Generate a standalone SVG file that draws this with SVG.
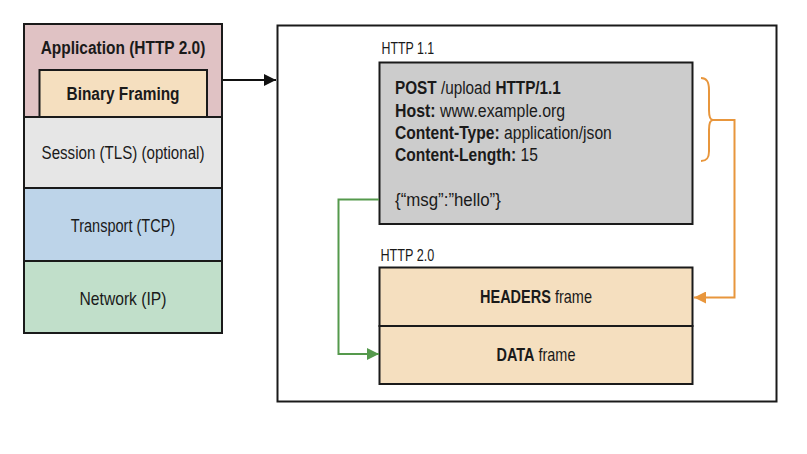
<svg xmlns="http://www.w3.org/2000/svg" width="807" height="454" viewBox="0 0 807 454">
<style>
.box{stroke:#1a1a1a;stroke-width:2}
.t{font-family:"Liberation Sans",Arial,sans-serif;font-size:18.5px;fill:#1a1a1a}
.b{font-weight:bold}
.m{text-anchor:middle}
</style>
<defs>
<marker id="ab" viewBox="0 0 12 12" refX="12" refY="6" markerWidth="12" markerHeight="12" markerUnits="userSpaceOnUse" orient="auto"><path d="M0,0 L12,6 L0,12 Z" fill="#111"/></marker>
<marker id="ag" viewBox="0 0 12 12" refX="12" refY="6" markerWidth="12" markerHeight="12" markerUnits="userSpaceOnUse" orient="auto"><path d="M0,0 L12,6 L0,12 Z" fill="#55994c"/></marker>
<marker id="ao" viewBox="0 0 12 12" refX="12" refY="6" markerWidth="12" markerHeight="12" markerUnits="userSpaceOnUse" orient="auto"><path d="M0,0 L12,6 L0,12 Z" fill="#e8963c"/></marker>
</defs>
<rect width="807" height="454" fill="#ffffff"/>

<g id="stack">
<g id="application">
<rect class="box" x="24" y="24" width="198" height="93" fill="#e0c2c4"/>
<text class="t b m" transform="translate(123,54) scale(0.836,1)">Application (HTTP 2.0)</text>
</g>
<g id="binary-framing">
<rect class="box" x="39.5" y="70" width="167.5" height="47" fill="#f5dfbf"/>
<text class="t b m" transform="translate(123,100) scale(0.833,1)">Binary Framing</text>
</g>
<g id="session">
<rect class="box" x="24" y="117" width="198" height="71" fill="#e6e6e6"/>
<text class="t m" transform="translate(123,159) scale(0.817,1)">Session (TLS) (optional)</text>
</g>
<g id="transport">
<rect class="box" x="24" y="188" width="198" height="73" fill="#bdd4e9"/>
<text class="t m" transform="translate(123,231.5) scale(0.786,1)">Transport (TCP)</text>
</g>
<g id="network">
<rect class="box" x="24" y="261" width="198" height="72" fill="#c1dfca"/>
<text class="t m" transform="translate(123,305) scale(0.846,1)">Network (IP)</text>
</g>
</g>

<g id="detail">
<rect class="box" x="277.5" y="25.5" width="499" height="376" fill="#ffffff"/>
</g>

<g id="http11">
<text class="t" transform="translate(381.5,54) scale(0.729,1)" style="font-size:17px">HTTP 1.1</text>
<rect class="box" x="379.5" y="62.5" width="313" height="161.5" fill="#cccccc"/>
<text class="t" transform="translate(395,94) scale(0.828,1)"><tspan class="b">POST</tspan> /upload <tspan class="b">HTTP/1.1</tspan></text>
<text class="t" transform="translate(395,116.5) scale(0.858,1)"><tspan class="b">Host:</tspan> www.example.org</text>
<text class="t" transform="translate(395,139) scale(0.845,1)"><tspan class="b">Content-Type:</tspan> application/json</text>
<text class="t" transform="translate(395,161) scale(0.843,1)"><tspan class="b">Content-Length:</tspan> 15</text>
<text class="t" transform="translate(395,206) scale(0.912,1)">{“msg”:”hello”}</text>
</g>

<g id="http20">
<text class="t" transform="translate(380.5,261) scale(0.743,1)" style="font-size:17px">HTTP 2.0</text>
<g id="headers-frame">
<rect class="box" x="379.5" y="267.5" width="313" height="58.5" fill="#f5dfbf"/>
<text class="t m" transform="translate(536,303) scale(0.784,1)"><tspan class="b">HEADERS</tspan> frame</text>
</g>
<g id="data-frame">
<rect class="box" x="379.5" y="326" width="313" height="58" fill="#f5dfbf"/>
<text class="t m" transform="translate(536,361) scale(0.78,1)"><tspan class="b">DATA</tspan> frame</text>
</g>
</g>

<g id="connectors" fill="none">
<line x1="223" y1="80" x2="276" y2="80" stroke="#111" stroke-width="2" marker-end="url(#ab)"/>
<polyline points="379,199.5 338.5,199.5 338.5,354 379,354" stroke="#55994c" stroke-width="2" marker-end="url(#ag)"/>
<path d="M701,78 C707,78 709,82 709,90 L709,110 C709,117 710,120 713,120 C710,120 709,123 709,130 L709,151 C709,158 707,161 701,161" stroke="#e8963c" stroke-width="2"/>
<polyline points="713,120 734.5,120 734.5,297.5 694,297.5" stroke="#e8963c" stroke-width="2" marker-end="url(#ao)"/>
</g>
</svg>
